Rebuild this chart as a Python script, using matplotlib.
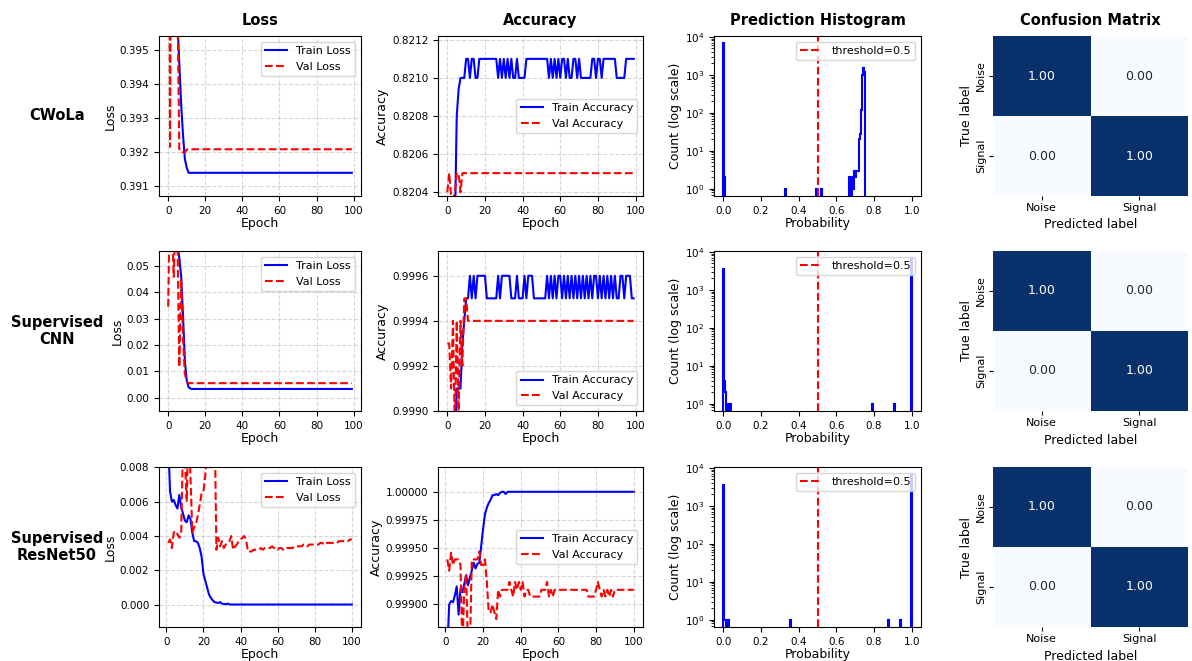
import numpy as np
import matplotlib
matplotlib.use('Agg')
import matplotlib.pyplot as plt
from matplotlib.ticker import MultipleLocator, FormatStrFormatter
import seaborn as sns

plt.rcParams['font.family'] = 'DejaVu Sans'
plt.rcParams['xtick.labelsize'] = 7.5
plt.rcParams['ytick.labelsize'] = 7.5
plt.rcParams['axes.labelsize'] = 9
plt.rcParams['legend.fontsize'] = 8

models = ['CWoLa', 'Supervised\nCNN', 'Supervised\nResNet50']
col_titles = ['Loss', 'Accuracy', 'Prediction Histogram', 'Confusion Matrix']
class_names = ['Noise', 'Signal']

# ---- CWoLa (epochs 0..99) ----
cwola_train_loss = [0.4500, 0.4300, 0.4150, 0.4050, 0.3990, 0.3958, 0.3946, 0.3934, 0.3925, 0.3918,
                    0.39155] + [0.3914] * 89
cwola_val_loss = [0.4100, 0.39216, 0.4050, 0.3990, 0.3975, 0.3965, 0.39209, 0.39209, 0.39200, 0.39200,
                  0.39208] + [0.39209] * 89
cwola_train_acc = [0.8190, 0.8196, 0.8199, 0.8201, 0.8202, 0.8208, 0.82094, 0.8210, 0.8210, 0.8210,
                   0.8211, 0.8211, 0.8210, 0.8211, 0.8211, 0.8210, 0.8210, 0.8211, 0.8211, 0.8211,
                   0.8211, 0.8211, 0.8211, 0.8211, 0.8211, 0.8211, 0.8211, 0.8210, 0.8211, 0.8210,
                   0.8211, 0.8210, 0.8211, 0.8210, 0.8211, 0.8210, 0.8210, 0.8211, 0.8210, 0.8210,
                   0.8210, 0.8210, 0.8211, 0.8211, 0.8211, 0.8211, 0.8211, 0.8211, 0.8211, 0.8211,
                   0.8211, 0.8211, 0.8211, 0.8211, 0.8210, 0.8211, 0.8210, 0.8211, 0.8210, 0.8211,
                   0.8210, 0.8211, 0.8211, 0.8210, 0.8211, 0.8210, 0.8210, 0.8211, 0.8211, 0.8210,
                   0.8211, 0.8210, 0.8210, 0.8210, 0.8210, 0.8210, 0.8210, 0.8211, 0.8211, 0.8210,
                   0.8211, 0.8211, 0.8210, 0.8211, 0.8211, 0.8211, 0.8211, 0.8211, 0.8211, 0.8211,
                   0.8210, 0.8210, 0.8210, 0.8210, 0.8210, 0.8211, 0.8211, 0.8211, 0.8211, 0.8211]
cwola_val_acc = [0.82040, 0.82050, 0.82038, 0.82036, 0.82040, 0.82050, 0.82050, 0.82040, 0.82050] + [0.82050] * 91

# ---- Supervised CNN (epochs 0..99) ----
cnn_train_loss = [0.2000, 0.1200, 0.0900, 0.0750, 0.0650, 0.0580, 0.0530, 0.0460, 0.0310, 0.0140,
                  0.0065, 0.0040, 0.0034] + [0.0033] * 87
cnn_val_loss = [0.0345, 0.0800, 0.0650, 0.0458, 0.0700, 0.0600, 0.0117, 0.0450, 0.0220, 0.0090,
                0.0062] + [0.0055] * 89
cnn_train_acc = [0.9984, 0.9986, 0.9987, 0.9988, 0.9988, 0.9991, 0.9991, 0.9991, 0.9993, 0.9994,
                 0.9995, 0.9995, 0.9996, 0.9995, 0.9996, 0.9995, 0.9996, 0.9996, 0.9996, 0.9996,
                 0.9996, 0.9995, 0.9995, 0.9995, 0.9995, 0.9995, 0.9995, 0.9996, 0.9995, 0.9996,
                 0.9996, 0.9996, 0.9996, 0.9996, 0.9995, 0.9995, 0.9995, 0.9996, 0.9995, 0.9995,
                 0.9995, 0.9996, 0.9995, 0.9996, 0.9996, 0.9996, 0.9995, 0.9995, 0.9995, 0.9995,
                 0.9995, 0.9995, 0.9995, 0.9996, 0.9995, 0.9996, 0.9995, 0.9996, 0.9995, 0.9996,
                 0.9996, 0.9995, 0.9996, 0.9995, 0.9996, 0.9995, 0.9996, 0.9995, 0.9996, 0.9995,
                 0.9996, 0.9995, 0.9996, 0.9995, 0.9996, 0.9995, 0.9996, 0.9995, 0.9996, 0.9996,
                 0.9995, 0.9996, 0.9995, 0.9996, 0.9995, 0.9996, 0.9995, 0.9996, 0.9995, 0.9996,
                 0.9995, 0.9995, 0.9996, 0.9996, 0.9995, 0.9996, 0.9996, 0.9996, 0.9995, 0.9995]
cnn_val_acc = [0.9993, 0.9993, 0.9991, 0.9994, 0.9989, 0.9994, 0.9990, 0.9994, 0.9992, 0.9995,
               0.9995] + [0.9994] * 89

# ---- Supervised ResNet50 (epochs 1..100) ----
resnet_train_loss = [0.0095, 0.0066, 0.0060, 0.0061, 0.0058, 0.0056, 0.0064, 0.0057, 0.0053, 0.0049,
                     0.0048, 0.0052, 0.0050, 0.0042, 0.0037, 0.0037, 0.0036, 0.0033, 0.0028, 0.0018,
                     0.0014, 0.0010, 0.0006, 0.0004, 0.00025, 0.00015, 0.00012, 0.00010, 0.00015, 0.00006,
                     0.00004, 0.00003, 0.00006, 0.00002] + [0.00001] * 66
resnet_val_loss = [0.0036, 0.0038, 0.0033, 0.0042, 0.0043, 0.0041, 0.0039, 0.0041, 0.0095, 0.0085,
                   0.0060, 0.0110, 0.0075, 0.0042, 0.0045, 0.0047, 0.0052, 0.0058, 0.0065, 0.0066,
                   0.0075, 0.0090, 0.0120, 0.0130, 0.0125, 0.0110, 0.0032, 0.0039, 0.0034, 0.0037,
                   0.0033, 0.0035, 0.0036, 0.0037, 0.0040, 0.0032, 0.0034, 0.0035, 0.0037, 0.0038,
                   0.0039, 0.0040, 0.0038, 0.0031, 0.0031, 0.0031, 0.0032, 0.0032, 0.0032, 0.0032,
                   0.0033, 0.0032, 0.0033, 0.0033, 0.0033, 0.0033, 0.0034, 0.0033, 0.0033, 0.0032,
                   0.0033, 0.0033, 0.0032, 0.0032, 0.0033, 0.0033, 0.0033, 0.0033, 0.0034, 0.0034,
                   0.0034, 0.0034, 0.0034, 0.0035, 0.0035, 0.0034, 0.0035, 0.0035, 0.0035, 0.0035,
                   0.0035, 0.0035, 0.0036, 0.0036, 0.0035, 0.0036, 0.0036, 0.0036, 0.0036, 0.0036,
                   0.0036, 0.0036, 0.0037, 0.0037, 0.0037, 0.0037, 0.0037, 0.0037, 0.0038, 0.0038]
resnet_train_acc = [0.99860, 0.99900, 0.99903, 0.99902, 0.99908, 0.99916, 0.99891, 0.99914, 0.99911, 0.99918,
                    0.99926, 0.99917, 0.99924, 0.99930, 0.99937, 0.99932, 0.99936, 0.99937, 0.99952, 0.99967,
                    0.99980, 0.99986, 0.99990, 0.99993, 0.99997, 0.99997, 0.99998, 0.99997, 0.99999, 1.00000,
                    1.00000, 0.99998, 1.00000] + [1.00000] * 67
resnet_val_acc = [0.99940, 0.99930, 0.99946, 0.99935, 0.99940, 0.99940, 0.99940, 0.99935, 0.99860, 0.99913,
                  0.99927, 0.99860, 0.99860, 0.99940, 0.99940, 0.99940, 0.99940, 0.99947, 0.99935, 0.99935,
                  0.99940, 0.99920, 0.99893, 0.99893, 0.99900, 0.99893, 0.99887, 0.99913, 0.99907, 0.99913,
                  0.99913, 0.99913, 0.99913, 0.99920, 0.99913, 0.99907, 0.99920, 0.99913, 0.99920, 0.99913,
                  0.99920, 0.99907, 0.99913, 0.99913, 0.99907, 0.99907, 0.99907, 0.99907, 0.99907, 0.99907,
                  0.99913, 0.99913, 0.99913, 0.99920, 0.99907, 0.99913, 0.99907] + [0.99913] * 18 + \
                 [0.99907, 0.99907, 0.99907, 0.99907, 0.99913, 0.99920, 0.99913, 0.99907, 0.99913, 0.99907,
                  0.99913, 0.99907, 0.99913, 0.99907] + [0.99913] * 11

# ---- prediction histograms: bin centres (200 bins on [0, 1]) and counts ----
hist_bins = 200
cwola_hist_p = [0.0025, 0.0075, 0.3275, 0.4925, 0.5225, 0.6725, 0.6775, 0.6875, 0.6925, 0.6975,
                0.7025, 0.7075, 0.7125, 0.7175, 0.7225, 0.7275, 0.7325, 0.7375, 0.7425, 0.7475, 0.7525]
cwola_hist_n = [6800, 2, 1, 1, 1, 2, 1, 2, 1, 3,
                2, 3, 3, 3, 20, 28, 120, 1000, 1500, 1200, 250]
cnn_hist_p = [0.0025, 0.0075, 0.0125, 0.0225, 0.0375, 0.7925, 0.9075, 0.9975]
cnn_hist_n = [3500, 4, 2, 1, 1, 1, 1, 6500]
resnet_hist_p = [0.0025, 0.0075, 0.0125, 0.0275, 0.3575, 0.8775, 0.9425, 0.9975]
resnet_hist_n = [3500, 1, 1, 1, 1, 1, 1, 6500]

# ---- confusion matrices (normalised) ----
cm_cwola = [[1.00, 0.00], [0.00, 1.00]]
cm_cnn = [[1.00, 0.00], [0.00, 1.00]]
cm_resnet = [[1.00, 0.00], [0.00, 1.00]]

rows = [
    dict(start=0, tl=cwola_train_loss, vl=cwola_val_loss, ta=cwola_train_acc, va=cwola_val_acc,
         hp=cwola_hist_p, hn=cwola_hist_n, cm=cm_cwola,
         loss_lim=(0.39072, 0.39541), loss_step=0.001, loss_fmt='%.3f',
         acc_lim=(0.82038, 0.82122), acc_step=0.0002, acc_fmt='%.4f', acc_leg='center right'),
    dict(start=0, tl=cnn_train_loss, vl=cnn_val_loss, ta=cnn_train_acc, va=cnn_val_acc,
         hp=cnn_hist_p, hn=cnn_hist_n, cm=cm_cnn,
         loss_lim=(-0.00505, 0.0556), loss_step=0.01, loss_fmt='%.2f',
         acc_lim=(0.99900, 0.99971), acc_step=0.0002, acc_fmt='%.4f', acc_leg='lower right'),
    dict(start=1, tl=resnet_train_loss, vl=resnet_val_loss, ta=resnet_train_acc, va=resnet_val_acc,
         hp=resnet_hist_p, hn=resnet_hist_n, cm=cm_resnet,
         loss_lim=(-0.0013, 0.00802), loss_step=0.002, loss_fmt='%.3f',
         acc_lim=(0.99880, 1.00022), acc_step=0.00025, acc_fmt='%.5f', acc_leg='center right'),
]

W, H = 1192, 661
fig = plt.figure(figsize=(W / 100, H / 100), dpi=100)

col_px = [(159, 361), (438, 643), (714, 921), (993, 1188)]
row_px = [(36, 196), (251, 411), (467, 627)]


def add_ax(r, c):
    x0, x1 = col_px[c]
    y0, y1 = row_px[r]
    return fig.add_axes([x0 / W, 1 - y1 / H, (x1 - x0) / W, (y1 - y0) / H])


edges = np.linspace(0, 1, hist_bins + 1)

for r, d in enumerate(rows):
    epochs = np.arange(d['start'], d['start'] + len(d['tl']))

    # loss
    ax = add_ax(r, 0)
    ax.plot(epochs, d['tl'], 'b-', lw=1.5, label='Train Loss')
    ax.plot(epochs, d['vl'], 'r--', lw=1.5, label='Val Loss')
    ax.set_ylim(*d['loss_lim'])
    ax.yaxis.set_major_locator(MultipleLocator(d['loss_step']))
    ax.yaxis.set_major_formatter(FormatStrFormatter(d['loss_fmt']))
    ax.set_xlabel('Epoch', labelpad=1)
    ax.set_ylabel('Loss', labelpad=2)
    ax.grid(True, linestyle='--', alpha=0.5)
    ax.legend(loc='upper right')
    if r == 0:
        ax.set_title(col_titles[0], fontweight='bold', fontsize=10.5, pad=8)

    # accuracy
    ax = add_ax(r, 1)
    ax.plot(epochs, d['ta'], 'b-', lw=1.5, label='Train Accuracy')
    ax.plot(epochs, d['va'], 'r--', lw=1.5, label='Val Accuracy')
    ax.set_ylim(*d['acc_lim'])
    ax.yaxis.set_major_locator(MultipleLocator(d['acc_step']))
    ax.yaxis.set_major_formatter(FormatStrFormatter(d['acc_fmt']))
    ax.set_xlabel('Epoch', labelpad=1)
    ax.set_ylabel('Accuracy', labelpad=2)
    ax.grid(True, linestyle='--', alpha=0.5)
    ax.legend(loc=d['acc_leg'])
    if r == 0:
        ax.set_title(col_titles[1], fontweight='bold', fontsize=10.5, pad=8)

    # histogram
    ax = add_ax(r, 2)
    ax.hist(d['hp'], bins=edges, weights=d['hn'], histtype='step', color='b', lw=1.5, log=True)
    ax.axvline(0.5, color='r', ls='--', lw=1.5, label='threshold=0.5')
    ax.set_ylim(0.64, 1.05e4)
    ax.set_xlim(-0.05, 1.05)
    ax.set_xlabel('Probability', labelpad=1)
    ax.set_ylabel('Count (log scale)', labelpad=2)
    ax.legend(loc='upper right')
    if r == 0:
        ax.set_title(col_titles[2], fontweight='bold', fontsize=10.5, pad=8)

    # confusion matrix
    ax = add_ax(r, 3)
    sns.heatmap(np.array(d['cm']), annot=True, fmt='.2f', cmap='Blues', cbar=False, ax=ax,
                xticklabels=class_names, yticklabels=class_names, annot_kws={'size': 9})
    ax.set_yticklabels(class_names, rotation=90, va='center', fontsize=8)
    ax.set_xticklabels(class_names, rotation=0, fontsize=8)
    ax.tick_params(length=3, pad=2)
    ax.set_xlabel('Predicted label', labelpad=4)
    ax.set_ylabel('True label', labelpad=2)
    if r == 0:
        ax.set_title(col_titles[3], fontweight='bold', fontsize=10.5, pad=8)

    yc = (row_px[r][0] + row_px[r][1]) / 2
    fig.text(57 / W, 1 - yc / H, models[r], ha='center', va='center',
             fontweight='bold', fontsize=10.5, linespacing=1.1)

fig.savefig('out.png', dpi=100)
